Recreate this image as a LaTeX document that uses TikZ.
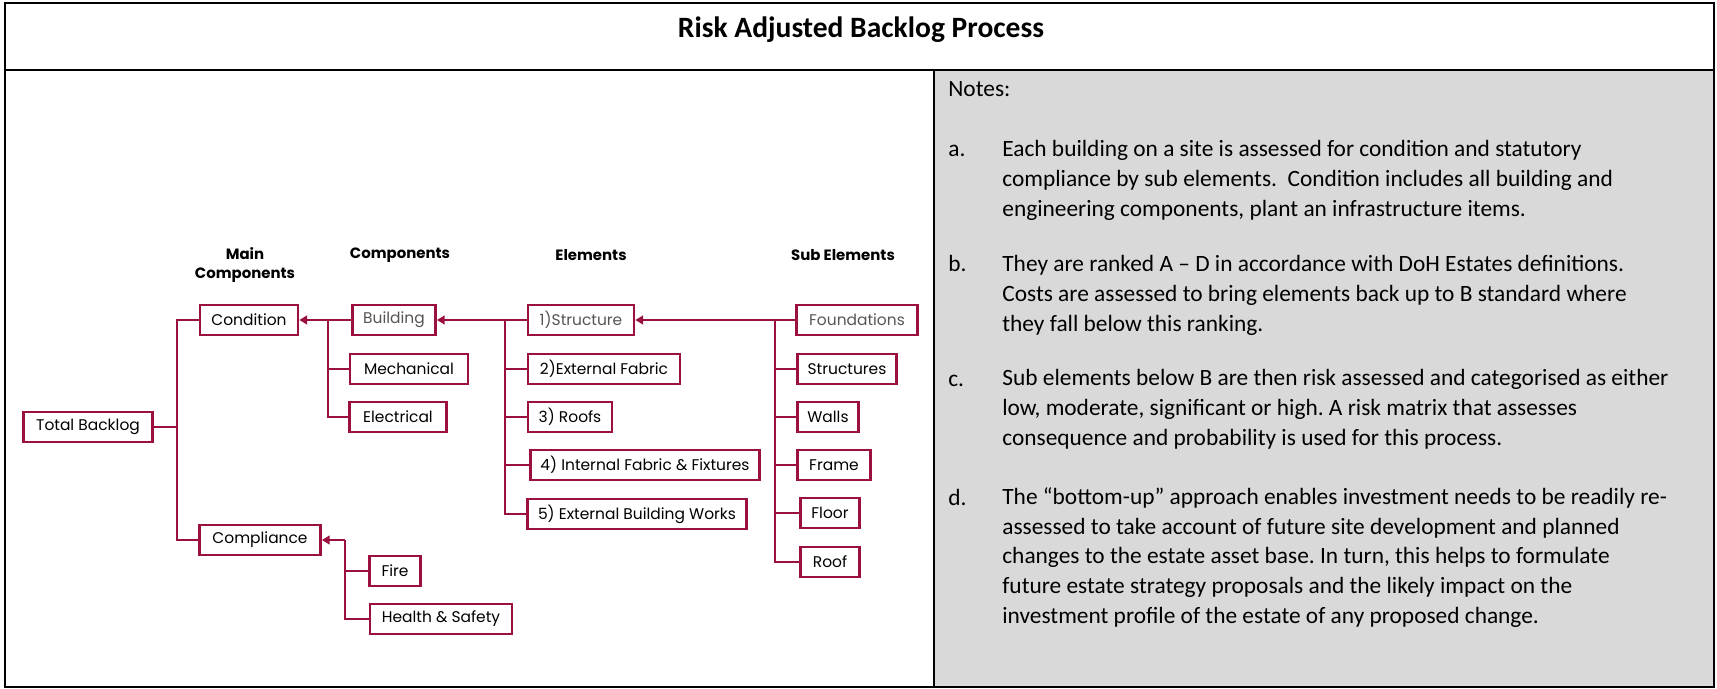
\documentclass[tikz,border=0pt]{standalone}
\usepackage{fontspec}
\setmainfont{Carlito}
\newfontfamily\gothic{Poppins}
\usetikzlibrary{arrows.meta,calc}
\definecolor{wine}{RGB}{155,16,62}
\definecolor{panel}{RGB}{217,217,217}
\definecolor{dimtext}{RGB}{85,85,85}
\frenchspacing
\tikzset{
  box/.style={draw=wine,line width=1.5pt,minimum height=17pt,inner sep=0pt,font=\gothic\fontsize{8.8}{10}\selectfont},
  bw/.style={minimum width=#1*0.02cm},
  wire/.style={draw=wine,line width=1.5pt},
  tip/.style={-{Triangle[length=4.5pt,width=5pt]}},
  head/.style={font=\gothic\bfseries\fontsize{8.5}{10.5}\selectfont,align=center},
  note/.style={anchor=base west,align=left,inner sep=0pt,font=\fontsize{13.3}{16.8}\selectfont}
}
\begin{document}
\begin{tikzpicture}[x=0.02cm,y=-0.02cm]
\useasboundingbox(0,0)rectangle(1717,689);
% table frame and notes panel
\fill[panel](934,70)rectangle(1714,687);
\draw[line width=1.4pt](5,3)rectangle(1714,687);\draw[line width=1.4pt](5,70)--(1714,70);\draw[line width=1.4pt](934,70)--(934,687);
\node[font=\bfseries\fontsize{16.8}{19}\selectfont](title)at(861,30){Risk Adjusted Backlog Process};
% column heads
\node[head](hmain)at(245,265){Main\\Components};\node[head](hcomp)at(400,255){Components};
\node[head](helem)at(591,255){Elements};\node[head](hsub)at(843,255){Sub Elements};
% boxes
\node[box,bw=129](total)at(88,427){Total Backlog};
\node[box,bw=98](cond)at(249,320){Condition};\node[box,bw=121](compl)at(260,540){Compliance};
\node[box,bw=83,text=dimtext](bldg)at(394,320){Building};\node[box,bw=118](mech)at(409,369){Mechanical};\node[box,bw=97](elec)at(398,417){Electrical};
\node[box,bw=51](fire)at(395,571){Fire};\node[box,bw=142](hs)at(441,619){Health \& Safety};
\node[box,bw=106,text=dimtext](el1)at(581,320){1)Structure};\node[box,bw=152](el2)at(604,369){2)External Fabric};\node[box,bw=84](el3)at(570,417){3) Roofs};
\node[box,bw=229](el4)at(645,465){4) Internal Fabric \& Fixtures};\node[box,bw=219](el5)at(637,514){5) External Building Works};
\node[box,bw=121,text=dimtext](sub1)at(857,320){Foundations};\node[box,bw=99](sub2)at(847,369){Structures};\node[box,bw=61](sub3)at(828,417){Walls};
\node[box,bw=73](sub4)at(834,465){Frame};\node[box,bw=59](sub5)at(830,513){Floor};\node[box,bw=59](sub6)at(830,562){Roof};
% connectors
\coordinate(j0)at(177,427);\coordinate(j1)at(328,320);\coordinate(j2)at(505,320);\coordinate(j3)at(775,320);\coordinate(j4)at(345,540);
\draw[wire](total)--(j0);\draw[wire](cond.west)-|(j0);\draw[wire](compl.west)-|(j0);
\draw[wire,tip](bldg)--(cond);\foreach\n in{mech,elec}\draw[wire](\n.west)-|(j1);
\draw[wire,tip](el1)--(bldg);\foreach\n in{el2,el3,el4,el5}\draw[wire](\n.west)-|(j2);
\draw[wire,tip](sub1)--(el1);\foreach\n in{sub2,sub3,sub4,sub5,sub6}\draw[wire](\n.west)-|(j3);
\draw[wire,tip](j4)--(compl);\foreach\n in{fire,hs}\draw[wire](\n.west)-|(j4);
% notes (base = last line of each block)
\node[note](notes)at(948,97){Notes:};
\node[note](la)at(948,157){a.};\node[note](na)at(1002,216){Each building on a site is assessed for condition and statutory\\compliance by sub elements.\ \ Condition includes all building and\\engineering components, plant an infrastructure items.};
\node[note](lb)at(948,272){b.};\node[note](nb)at(1002,331){They are ranked A -- D in accordance with DoH Estates definitions.\\Costs are assessed to bring elements back up to B standard where\\they fall below this ranking.};
\node[note](lc)at(948,386){c.};\node[note](nc)at(1002,445){Sub elements below B are then risk assessed and categorised as either\\low, moderate, significant or high. A risk matrix that assesses\\consequence and probability is used for this process.};
\node[note](ld)at(948,505){d.};\node[note](nd)at(1002,623){The “bottom-up” approach enables investment needs to be readily re-\\assessed to take account of future site development and planned\\changes to the estate asset base. In turn, this helps to formulate\\future estate strategy proposals and the likely impact on the\\investment profile of the estate of any proposed change.};
\end{tikzpicture}
\end{document}
